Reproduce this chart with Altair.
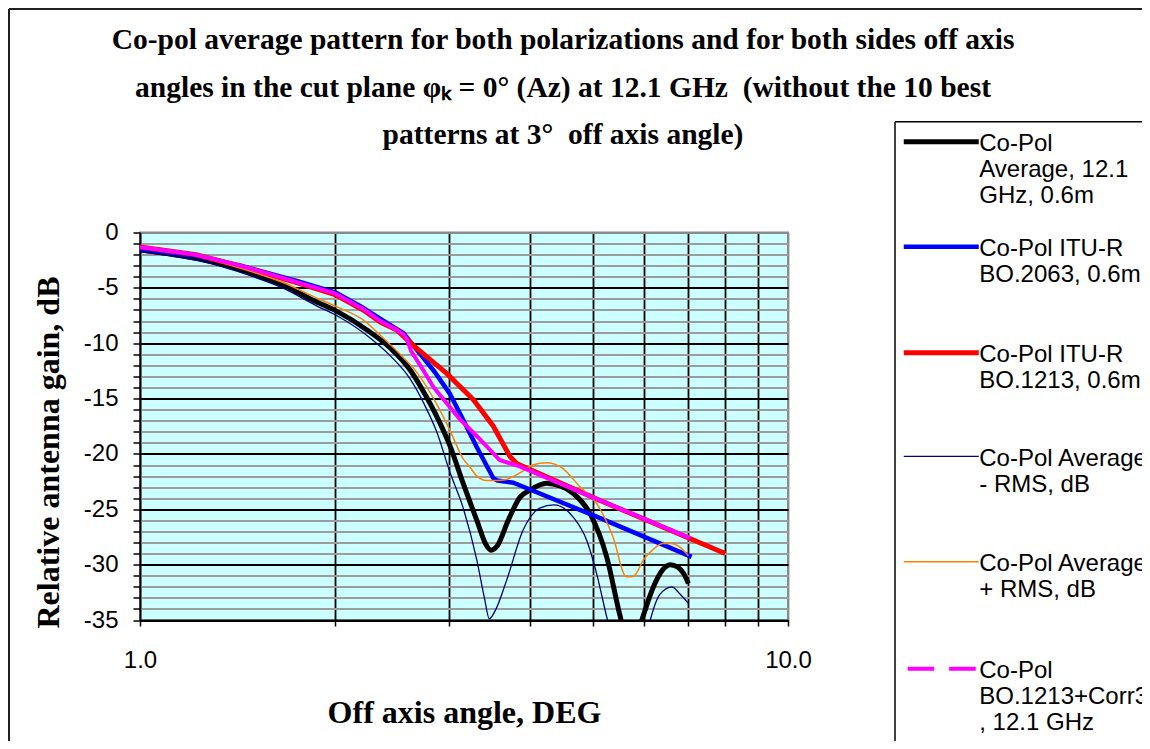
import altair as alt
import pandas as pd

# ---------------- data ----------------
SERIES = [
    "Co-Pol|Average, 12.1|GHz, 0.6m",
    "Co-Pol ITU-R|BO.2063, 0.6m",
    "Co-Pol ITU-R|BO.1213, 0.6m",
    "Co-Pol Average|-  RMS, dB",
    "Co-Pol Average|+ RMS, dB",
    "Co-Pol|BO.1213+Corr3|, 12.1 GHz",
]
COLORS = ["#000000", "#0000FF", "#FF0000", "#000080", "#FF8000", "#FF00FF"]

avg_x = [1.0, 1.1, 1.22, 1.35, 1.48, 1.66, 1.87, 2.01, 2.24, 2.43, 2.61, 2.74, 2.87,
         3.01, 3.15, 3.31, 3.42, 3.48, 3.56, 3.7, 3.86, 3.99, 4.24, 4.45, 4.66, 4.95,
         5.25, 5.51, 5.65, 5.8, 5.95, 6.2, 6.4, 6.58, 6.75, 6.9, 7.02]
avg_y = [-1.55, -1.9, -2.33, -2.9, -3.7, -4.74, -6.25, -7.1, -8.8, -10.4, -12.4, -14.4, -16.6,
         -19.3, -22.6, -26.0, -28.2, -28.7, -28.3, -26.0, -23.9, -23.3, -22.65, -22.9, -23.55, -25.4,
         -29.3, -34.7, -37.0, -37.0, -35.0, -32.0, -30.5, -30.0, -30.2, -30.8, -31.7]

bo2063_x = [1.0, 1.22, 1.43, 1.75, 2.0, 2.21, 2.35, 2.55, 2.70, 2.85, 3.01, 3.12, 3.31,
            3.51, 3.56, 3.77, 5.13, 7.1]
bo2063_y = [-1.5, -2.1, -3.0, -4.4, -5.4, -6.8, -7.8, -9.1, -10.9, -12.6, -14.6, -16.4, -19.4,
            -22.2, -22.4, -22.6, -25.8, -29.3]

bo1213_x = [1.0, 1.22, 1.43, 1.75, 2.0, 2.21, 2.35, 2.49, 2.64, 2.97, 3.27, 3.51, 3.72,
            3.82, 5.13, 8.0]
bo1213_y = [-1.3, -2.0, -3.05, -4.55, -5.6, -7.0, -8.1, -8.8, -10.2, -12.7, -15.1, -17.5, -20.2,
            -20.9, -24.2, -29.0]

minus_x = [1.0, 1.22, 1.48, 1.66, 1.87, 2.01, 2.24, 2.43, 2.61, 2.74, 2.87, 3.01, 3.15,
           3.31, 3.4, 3.46, 3.53, 3.68, 3.9, 4.14, 4.35, 4.66, 4.89, 5.05, 5.25, 5.45,
           5.7, 5.95, 6.13, 6.34, 6.62, 6.8, 7.02]
minus_y = [-1.75, -2.5, -3.9, -5.0, -6.6, -7.5, -9.3, -11.1, -13.2, -15.4, -18.0, -21.7, -24.8,
           -29.6, -33.0, -34.9, -34.2, -31.4, -26.9, -24.9, -24.6, -25.7, -27.8, -30.5, -34.7, -38.5,
           -40.0, -38.5, -35.0, -32.7, -32.0, -32.6, -33.5]

plus_x = [1.0, 1.22, 1.48, 1.66, 1.87, 2.01, 2.21, 2.36, 2.52, 2.68, 2.87, 3.01, 3.15,
          3.23, 3.31, 3.43, 3.55, 3.68, 3.86, 4.04, 4.24, 4.49, 4.78, 5.07, 5.37, 5.63,
          5.75, 5.83, 5.98, 6.2, 6.41, 6.6, 6.8, 7.02]
plus_y = [-1.4, -2.1, -3.5, -4.5, -5.9, -6.7, -7.9, -9.4, -11.0, -12.7, -15.5, -17.9, -20.4,
          -21.2, -22.0, -22.4, -22.4, -22.3, -21.7, -21.0, -20.8, -21.3, -23.0, -24.5, -27.5, -31.1,
          -31.1, -30.8, -29.6, -28.6, -28.1, -28.1, -28.4, -29.2]

corr3_x = [1.0, 1.22, 1.43, 1.75, 2.0, 2.21, 2.35, 2.49, 2.55, 2.58, 2.62, 2.74, 2.84,
           3.12, 3.35, 3.59, 3.86, 5.13, 7.06]
corr3_y = [-1.3, -2.0, -3.0, -4.5, -5.5, -6.9, -8.0, -8.8, -9.2, -9.6, -10.7, -12.5, -14.0,
           -16.9, -18.7, -20.55, -21.15, -24.2, -27.6]

Y_TICKS = list(range(-35, 1))
X_TICKS = [1, 2, 3, 4, 5, 6, 7, 8, 9, 10]

TITLE = [
    "Co-pol average pattern for both polarizations and for both sides off axis",
    "angles in the cut plane \u03c6\u2096 = 0\u00b0 (Az) at 12.1 GHz\u00a0 (without the 10 best",
    "patterns at 3\u00b0\u00a0 off axis angle)",
]

# ---------------- table ----------------
xs = [avg_x, bo2063_x, bo1213_x, minus_x, plus_x, corr3_x]
ys = [avg_y, bo2063_y, bo1213_y, minus_y, plus_y, corr3_y]
frames = []
for name, x, y in zip(SERIES, xs, ys):
    frames.append(pd.DataFrame({"angle": x, "gain": y, "series": name}))
df = pd.concat(frames, ignore_index=True)

# ---------------- styles ----------------
LINE_W = [5, 4.5, 5, 1.3, 1.5, 4]
INTERP = ["monotone", "linear", "linear", "monotone", "monotone", "linear"]
SOLID = "M-2,-0.5H2"
DASHED = "M-1.79,-0.5H-0.38M0.42,-0.5H1.84"
SYMBOLS = [SOLID, SOLID, SOLID, SOLID, SOLID, DASHED]

SANS = "Liberation Sans"
SERIF = "Liberation Serif"

x_enc = alt.X(
    "angle:Q",
    scale=alt.Scale(type="log", domain=[1, 10], nice=False),
    axis=alt.Axis(
        values=X_TICKS,
        labelExpr="datum.value === 1 ? '1.0' : (datum.value === 10 ? '10.0' : '')",
        labelFlush=False,
        labelFont=SANS, labelFontSize=24, labelColor="black", labelPadding=22,
        tickSize=6, tickColor="black", tickWidth=1.5,
        domainColor="black", domainWidth=1.5,
        grid=True,
        gridColor={"condition": {"test": "datum.value === 10", "value": "#8a8a8a"}, "value": "black"},
        gridWidth=1.8,
        title="Off axis angle, DEG",
        titleFont=SERIF, titleFontSize=32, titleFontWeight="bold", titleColor="black",
        titleX=324, titleY=92, titleBaseline="middle",
    ),
)

y_enc = alt.Y(
    "gain:Q",
    scale=alt.Scale(domain=[-35, 0], nice=False, zero=False),
    axis=alt.Axis(
        values=Y_TICKS,
        labelExpr="datum.value % 5 === 0 ? toString(datum.value) : ''",
        labelFont=SANS, labelFontSize=24, labelColor="black", labelPadding=15,
        tickSize=7, tickColor="black", tickWidth=1.5,
        domainColor="black", domainWidth=1.5,
        grid=True,
        gridColor={"condition": [
            {"test": "datum.value === 0", "value": "#8a8a8a"},
            {"test": "datum.value % 5 === 0", "value": "black"},
        ], "value": "#9c9c9c"},
        gridWidth={"condition": {"test": "datum.value % 5 === 0", "value": 1.8}, "value": 2},
        title="Relative antenna gain, dB",
        titleFont=SERIF, titleFontSize=32, titleFontWeight="bold", titleColor="black",
        titleX=-92, titleY=219.5, titleBaseline="middle",
    ),
)

legend = alt.Legend(
    title=None,
    orient="none", legendX=753, legendY=-110.8,
    symbolSize=1406.25, symbolOffset=18.75,
    labelFont=SANS, labelFontSize=24, labelColor="black",
    labelLimit=500, labelOffset=16.5, labelBaseline="alphabetic",
    labelExpr="split(datum.label, '|')",
    padding=8, rowPadding=26.5, gridAlign="all",
)

color_enc = alt.Color("series:N", scale=alt.Scale(domain=SERIES, range=COLORS), legend=legend)
width_enc = alt.StrokeWidth("series:N", scale=alt.Scale(type="ordinal", domain=SERIES, range=LINE_W),
                            legend=legend)
shape_enc = alt.Shape("series:N", scale=alt.Scale(domain=SERIES, range=SYMBOLS), legend=legend)

base = alt.Chart(df).encode(x=x_enc, y=y_enc, color=color_enc, strokeWidth=width_enc)

layers = []
for name, interp in zip(SERIES, INTERP):
    layers.append(
        base.transform_filter(alt.datum.series == name)
        .mark_line(clip=True, interpolate=interp, strokeJoin="round", strokeCap="butt")
    )

# invisible point layer whose only role is to give the legend its line-style symbols
legend_shapes = base.mark_point(size=0, opacity=1, filled=False, clip=True).encode(shape=shape_enc)

# outer frame of the chart area and the legend box: both run off the page edge, as in the original,
# so only their top and left edges are drawn
one = pd.DataFrame({"f": [0]})
frame_top = alt.Chart(one).mark_rule(color="#202020", strokeWidth=2, clip=False).encode(
    x=alt.value(-131), x2=alt.value(1200), y=alt.value(-223.5)
)
frame_left = alt.Chart(one).mark_rule(color="#202020", strokeWidth=2, clip=False).encode(
    x=alt.value(-131), y=alt.value(-223.5), y2=alt.value(800)
)
box_fill = alt.Chart(one).mark_rect(fill="white", strokeWidth=0, clip=False).encode(
    x=alt.value(755), y=alt.value(-110.8), x2=alt.value(1200), y2=alt.value(800)
)
box_top = alt.Chart(one).mark_rule(color="black", strokeWidth=1.5, clip=False).encode(
    x=alt.value(755), x2=alt.value(1200), y=alt.value(-110.8)
)
box_left = alt.Chart(one).mark_rule(color="black", strokeWidth=1.5, clip=False).encode(
    x=alt.value(755), y=alt.value(-110.8), y2=alt.value(800)
)

chart = (
    alt.layer(frame_top, frame_left, box_fill, box_top, box_left, *layers, legend_shapes)
    .properties(
        width=648,
        height=387.5,
        autosize=alt.AutoSizeParams(type="none"),
        padding={"left": 132, "top": 224.5, "right": 354, "bottom": 121},
        background="white",
        title=alt.TitleParams(
            text=TITLE,
            font=SERIF, fontSize=29.5, fontWeight="bold", color="black",
            lineHeight=47.5, anchor="middle", dx=99, offset=-142.5,
        ),
    )
    .configure_view(fill="#CCFFFF", stroke="#8a8a8a", strokeWidth=2)
)

chart.save("out.html", embed_options={"renderer": "svg", "actions": False})
